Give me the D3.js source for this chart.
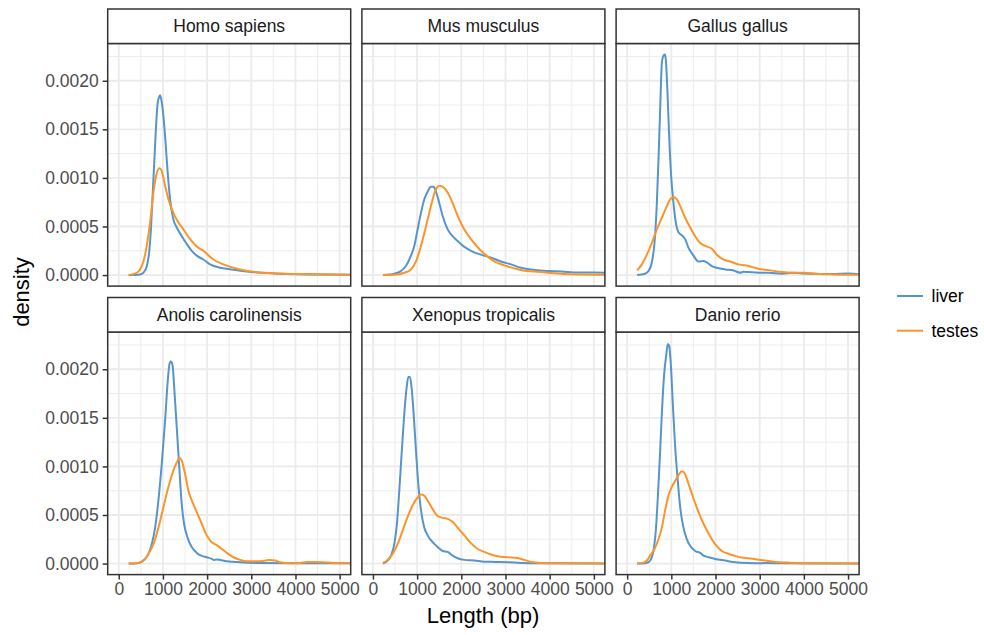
<!DOCTYPE html>
<html>
<head>
<meta charset="utf-8">
<script src="https://cdn.jsdelivr.net/npm/d3@7"></script>
<style>
  html, body { margin: 0; padding: 0; background: #fff; }
  svg { display: block; }
  text { font-family: "Liberation Sans", Arial, Helvetica, sans-serif; }
</style>
</head>
<body>
<svg id="chart" width="984" height="635"></svg>
<script>
// ---------------- DATA ----------------
const species = ["Homo sapiens", "Mus musculus", "Gallus gallus",
                 "Anolis carolinensis", "Xenopus tropicalis", "Danio rerio"];
const tissues = ["liver", "testes"];
const xTicks = [0, 1000, 2000, 3000, 4000, 5000];
const yTicks = [0, 0.0005, 0.001, 0.0015, 0.002];
const xLimits = [0, 5000];

// [length (bp), density]
const homoLiver = [[226,0],[483,0.000007],[558,0.000024],[634,0.00009],[687,0.00023],[732,0.0005],[770,0.00085],[808,0.0012],[845,0.00154],[883,0.00178],[913,0.00183],[936,0.00185],[966,0.0018],[996,0.0017],[1049,0.00143],[1102,0.00109],[1162,0.00078],[1238,0.00057],[1313,0.00049],[1426,0.0004],[1540,0.00032],[1653,0.00025],[1766,0.0002],[1917,0.00016],[2068,0.00011],[2294,0.000075],[2521,0.00006],[2747,0.000045],[3049,0.00003],[3502,0.000017],[4257,0.000007],[5300,0.000003]];
const homoTestes = [[226,0],[408,0.000024],[483,0.000058],[558,0.00014],[634,0.0003],[709,0.00054],[785,0.00085],[845,0.00102],[921,0.0011],[974,0.00107],[1049,0.00092],[1125,0.00078],[1200,0.00068],[1313,0.00057],[1464,0.00047],[1615,0.00037],[1804,0.00028],[1917,0.00025],[1992,0.00022],[2143,0.00016],[2370,0.00011],[2747,0.000058],[3124,0.00003],[3502,0.00002],[4257,0.00001],[5300,0.000003]];
const musLiver = [[226,0],[483,0.000014],[634,0.000041],[747,0.000093],[860,0.0002],[936,0.0003],[1011,0.00047],[1087,0.00064],[1162,0.00078],[1238,0.00086],[1313,0.00091],[1374,0.00091],[1426,0.00086],[1502,0.00074],[1577,0.00061],[1691,0.00047],[1804,0.0004],[1917,0.00035],[2068,0.00029],[2219,0.00025],[2445,0.00021],[2672,0.00018],[2898,0.00014],[3124,0.00011],[3351,0.000075],[3577,0.000058],[3955,0.000041],[4257,0.000038],[4634,0.000027],[5011,0.000027],[5300,0.000024]];
const musTestes = [[226,0],[558,0.000007],[709,0.000024],[860,0.000058],[974,0.00014],[1087,0.0003],[1200,0.0005],[1313,0.00071],[1404,0.00086],[1502,0.00092],[1577,0.00091],[1691,0.00085],[1804,0.00074],[1917,0.00061],[2068,0.00047],[2219,0.00037],[2445,0.00025],[2596,0.00019],[2747,0.00014],[2974,0.0001],[3200,0.000069],[3426,0.000045],[3653,0.000038],[3955,0.000024],[4257,0.000014],[4634,0.000007],[5300,0.000003]];
const gallusLiver = [[226,0],[408,0.000014],[483,0.000041],[558,0.00013],[619,0.00033],[672,0.00074],[709,0.00119],[747,0.0017],[785,0.00218],[823,0.00226],[853,0.00227],[875,0.00222],[913,0.00188],[951,0.00143],[996,0.00102],[1049,0.00074],[1102,0.00054],[1162,0.00044],[1238,0.00041],[1313,0.00037],[1389,0.00028],[1502,0.0002],[1615,0.00014],[1728,0.000145],[1804,0.00013],[1917,0.000093],[2030,0.000075],[2219,0.000058],[2407,0.000048],[2558,0.000024],[2634,0.000034],[2747,0.000031],[2974,0.000024],[3200,0.000024],[3502,0.000014],[3728,0.000024],[3955,0.000017],[4257,0.000014],[4634,0.00001],[5011,0.000017],[5300,0.000007]];
const gallusTestes = [[226,0.000048],[332,0.00011],[445,0.00021],[558,0.00033],[672,0.00047],[785,0.00059],[898,0.00071],[974,0.00078],[1049,0.0008],[1125,0.00078],[1200,0.00071],[1313,0.00059],[1426,0.00049],[1540,0.0004],[1653,0.00033],[1766,0.0003],[1917,0.00027],[2030,0.00021],[2143,0.00017],[2332,0.00014],[2521,0.00011],[2747,0.000093],[2974,0.000065],[3200,0.000051],[3502,0.000031],[3728,0.000024],[4030,0.000024],[4257,0.000014],[4634,0.000007],[5300,0.000003]];
const anolisLiver = [[226,0],[445,0.000007],[521,0.00002],[596,0.000048],[672,0.0001],[747,0.0002],[823,0.00037],[898,0.00065],[974,0.00103],[1049,0.00147],[1109,0.00188],[1147,0.00205],[1177,0.00208],[1215,0.00205],[1260,0.00178],[1313,0.0014],[1374,0.00096],[1426,0.00061],[1479,0.00041],[1555,0.00027],[1653,0.00017],[1766,0.00011],[1879,0.000079],[1992,0.000065],[2106,0.000048],[2143,0.000038],[2219,0.000041],[2445,0.000024],[2747,0.000014],[3124,0.000007],[4106,0.000003],[5300,0.000003]];
const anolisTestes = [[226,0],[445,0.000007],[521,0.00002],[596,0.000048],[672,0.0001],[785,0.0002],[898,0.00037],[1011,0.00058],[1125,0.00079],[1238,0.00096],[1313,0.00104],[1374,0.00109],[1426,0.00106],[1502,0.00092],[1577,0.00075],[1653,0.00065],[1766,0.00053],[1879,0.00041],[1992,0.00029],[2106,0.00022],[2219,0.00019],[2332,0.00015],[2445,0.00011],[2596,0.000065],[2747,0.000038],[2898,0.000024],[3124,0.000024],[3313,0.000031],[3426,0.000038],[3540,0.000031],[3653,0.000014],[3879,0.000003],[4106,0.000007],[4257,0.000017],[4408,0.000017],[4634,0.000014],[4860,0.000007],[5300,0.000003]];
const xenopusLiver = [[226,0],[332,0.000031],[408,0.000082],[483,0.0002],[543,0.00041],[596,0.00075],[649,0.00113],[709,0.00154],[762,0.00181],[800,0.00192],[838,0.00192],[875,0.00181],[921,0.00154],[974,0.00116],[1026,0.00082],[1087,0.00055],[1162,0.00037],[1238,0.00029],[1351,0.00022],[1464,0.00017],[1577,0.00013],[1691,0.00012],[1804,0.000082],[1917,0.000055],[2068,0.000038],[2294,0.000031],[2521,0.00002],[2747,0.000017],[3049,0.000014],[3351,0.000007],[3879,0.000003],[5300,0]];
const xenopusTestes = [[226,0.000007],[332,0.000038],[445,0.0001],[558,0.0002],[672,0.00034],[785,0.00048],[898,0.0006],[1011,0.00068],[1087,0.00071],[1162,0.0007],[1238,0.00065],[1351,0.00056],[1464,0.00049],[1577,0.00047],[1691,0.00046],[1804,0.00043],[1917,0.00037],[2068,0.00029],[2219,0.00021],[2370,0.00015],[2521,0.00012],[2672,0.000093],[2823,0.000075],[3049,0.000065],[3275,0.000058],[3426,0.000038],[3577,0.000017],[3804,0.000007],[4257,0.000003],[5300,0]];
const danioLiver = [[226,0],[408,0.000003],[483,0.000014],[543,0.000048],[596,0.00013],[649,0.00034],[694,0.00068],[740,0.00109],[785,0.00154],[838,0.00195],[883,0.00214],[921,0.00226],[951,0.00224],[989,0.00205],[1034,0.00164],[1087,0.0012],[1147,0.00085],[1200,0.00058],[1275,0.00037],[1351,0.00025],[1449,0.00017],[1540,0.00013],[1653,0.00011],[1728,0.000082],[1842,0.000065],[1992,0.000048],[2219,0.000031],[2445,0.000014],[2747,0.000007],[3502,0.000003],[5300,0]];
const danioTestes = [[226,0],[370,0.00001],[445,0.000031],[521,0.000082],[619,0.00015],[709,0.00025],[785,0.00037],[860,0.00055],[936,0.0007],[1011,0.00079],[1087,0.00085],[1162,0.00091],[1238,0.00095],[1313,0.00092],[1389,0.00082],[1502,0.00067],[1615,0.00053],[1728,0.00041],[1842,0.00031],[1992,0.0002],[2143,0.00013],[2294,0.0001],[2445,0.000079],[2596,0.000062],[2747,0.000055],[2898,0.000045],[3124,0.000031],[3351,0.000017],[3653,0.00001],[4106,0.000003],[5300,0]];

const seriesBySpecies = [
  [homoLiver, homoTestes],
  [musLiver, musTestes],
  [gallusLiver, gallusTestes],
  [anolisLiver, anolisTestes],
  [xenopusLiver, xenopusTestes],
  [danioLiver, danioTestes]
];

// ---------------- LAYOUT / STYLE ----------------
const colors = {liver: "#5595cc", testes: "#fd9428"};
const colX = [107.7, 361.9, 616.1];
const stripTop = [9, 297.5];
const panelW = 243, panelH = 242.6, stripH = 34.5;
const tickFont = 17.5;
const lineW = 2;

const svg = d3.select("#chart");
svg.append("rect").attr("width", 984).attr("height", 635).attr("fill", "#fff");

const ymax = d3.max(seriesBySpecies.flat(), s => d3.max(s, d => d[1]));
const xSpan = xLimits[1] - xLimits[0];
const xDomain = [xLimits[0] - 0.05 * xSpan, xLimits[1] + 0.05 * xSpan];
const yDomain = [-0.05 * ymax, 1.05 * ymax];

const xMinor = d3.range(500, 5000, 1000);
const yMinor = d3.range(0.00025, yDomain[1], 0.0005);

const defs = svg.append("defs");

species.forEach((sp, i) => {
  const col = i % 3, row = Math.floor(i / 3);
  const px = colX[col];
  const sy = stripTop[row];
  const py = sy + stripH;

  const x = d3.scaleLinear().domain(xDomain).range([px, px + panelW]);
  const y = d3.scaleLinear().domain(yDomain).range([py + panelH, py]);

  const g = svg.append("g");

  g.append("rect").attr("x", px).attr("y", py).attr("width", panelW).attr("height", panelH).attr("fill", "#fff");

  g.selectAll(".vmin").data(xMinor).join("line")
    .attr("x1", d => x(d)).attr("x2", d => x(d)).attr("y1", py).attr("y2", py + panelH)
    .attr("stroke", "#ebebeb").attr("stroke-width", 0.9);
  g.selectAll(".hmin").data(yMinor).join("line")
    .attr("y1", d => y(d)).attr("y2", d => y(d)).attr("x1", px).attr("x2", px + panelW)
    .attr("stroke", "#ebebeb").attr("stroke-width", 0.9);
  g.selectAll(".vmaj").data(xTicks).join("line")
    .attr("x1", d => x(d)).attr("x2", d => x(d)).attr("y1", py).attr("y2", py + panelH)
    .attr("stroke", "#ebebeb").attr("stroke-width", 1.8);
  g.selectAll(".hmaj").data(yTicks).join("line")
    .attr("y1", d => y(d)).attr("y2", d => y(d)).attr("x1", px).attr("x2", px + panelW)
    .attr("stroke", "#ebebeb").attr("stroke-width", 1.8);

  const cid = "clip" + i;
  defs.append("clipPath").attr("id", cid).append("rect")
    .attr("x", px).attr("y", py).attr("width", panelW).attr("height", panelH);

  const line = d3.line().x(d => x(d[0])).y(d => y(d[1])).curve(d3.curveMonotoneX);
  const lg = g.append("g").attr("clip-path", `url(#${cid})`);
  seriesBySpecies[i].forEach((s, k) => {
    lg.append("path").attr("d", line(s)).attr("fill", "none")
      .attr("stroke", colors[tissues[k]]).attr("stroke-width", lineW)
      .attr("stroke-linejoin", "round").attr("stroke-linecap", "butt");
  });

  g.append("rect").attr("x", px).attr("y", py).attr("width", panelW).attr("height", panelH)
    .attr("fill", "none").attr("stroke", "#333").attr("stroke-width", 1.5);

  g.append("rect").attr("x", px).attr("y", sy).attr("width", panelW).attr("height", stripH)
    .attr("fill", "#fff").attr("stroke", "#333").attr("stroke-width", 1.5);
  g.append("text").attr("x", px + panelW / 2).attr("y", sy + stripH / 2)
    .attr("text-anchor", "middle").attr("dominant-baseline", "central")
    .attr("font-size", tickFont).attr("fill", "#1a1a1a").text(sp);

  if (col === 0) {
    const ax = g.append("g").attr("transform", `translate(${px},0)`)
      .call(d3.axisLeft(y).tickValues(yTicks).tickFormat(d3.format(".4f")).tickSize(5).tickPadding(4));
    ax.select(".domain").remove();
    ax.selectAll("line").attr("stroke", "#333").attr("stroke-width", 1.5);
    ax.selectAll("text").attr("font-size", tickFont).attr("fill", "#4d4d4d")
      .attr("font-family", "Liberation Sans, Arial, sans-serif");
  }
  if (row === 1) {
    const ax = g.append("g").attr("transform", `translate(0,${py + panelH})`)
      .call(d3.axisBottom(x).tickValues(xTicks).tickFormat(d3.format("d")).tickSize(5).tickPadding(3));
    ax.select(".domain").remove();
    ax.selectAll("line").attr("stroke", "#333").attr("stroke-width", 1.5);
    ax.selectAll("text").attr("font-size", tickFont).attr("fill", "#4d4d4d")
      .attr("font-family", "Liberation Sans, Arial, sans-serif");
  }
});

svg.append("text").attr("x", 483).attr("y", 623).attr("text-anchor", "middle")
  .attr("font-size", 22).attr("fill", "#000").text("Length (bp)");
svg.append("text").attr("transform", "translate(29,292) rotate(-90)").attr("text-anchor", "middle")
  .attr("font-size", 22).attr("fill", "#000").text("density");

const legY = [296, 330.7];
tissues.forEach((t, k) => {
  svg.append("line").attr("x1", 897).attr("x2", 923).attr("y1", legY[k]).attr("y2", legY[k])
    .attr("stroke", colors[t]).attr("stroke-width", lineW);
  svg.append("text").attr("x", 931.5).attr("y", legY[k]).attr("dominant-baseline", "central")
    .attr("font-size", tickFont).attr("fill", "#000").text(t);
});
</script>
</body>
</html>
